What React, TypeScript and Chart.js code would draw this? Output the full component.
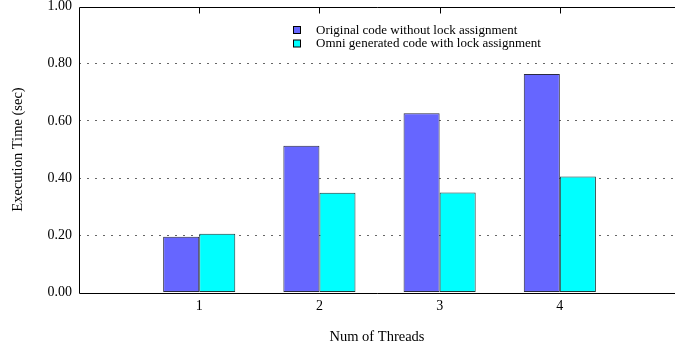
import { useEffect, useRef } from 'react';
import { Chart, registerables } from 'chart.js';

Chart.register(...registerables);

const threads = [1, 2, 3, 4];
const threadLabels = ['1', '2', '3', '4'];
const originalTimes = [0.195, 0.513, 0.627, 0.764];
const omniTimes = [0.205, 0.349, 0.35, 0.406];
const seriesLabels = [
  'Original code without lock assignment',
  'Omni generated code with lock assignment',
];
const yTickValues = [0, 0.2, 0.4, 0.6, 0.8, 1.0];
const xTitle = 'Num of Threads';
const yTitle = 'Execution Time (sec)';

const FONT_FAMILY = '"Liberation Serif", "Times New Roman", Times, serif';
const tickFont = { family: FONT_FAMILY, size: 14 };
const titleFont = { family: FONT_FAMILY, size: 14.5 };

const framePlugin = {
  id: 'frame',
  afterDatasetsDraw(chart: any) {
    const { ctx, chartArea } = chart;
    const { left, right, top, bottom } = chartArea;
    const xs = chart.scales.x;
    ctx.save();
    ctx.strokeStyle = '#000';
    ctx.lineWidth = 1;
    ctx.setLineDash([]);
    ctx.beginPath();
    const l = Math.round(left) + 0.5;
    const t = Math.round(top) + 0.5;
    const b = Math.round(bottom) + 0.5;
    ctx.moveTo(right, t);
    ctx.lineTo(l, t);
    ctx.lineTo(l, b);
    ctx.lineTo(right, b);
    threads.forEach((v) => {
      const px = Math.round(xs.getPixelForValue(v)) + 0.5;
      ctx.moveTo(px, t);
      ctx.lineTo(px, t + 6);
    });
    ctx.stroke();
    ctx.restore();
  },
};

const legendPlugin = {
  id: 'innerLegend',
  afterDraw(chart: any) {
    const { ctx } = chart;
    ctx.save();
    ctx.font = `13px ${FONT_FAMILY}`;
    ctx.textBaseline = 'middle';
    ctx.textAlign = 'left';
    chart.data.datasets.forEach((ds: any, i: number) => {
      const boxTop = 26.5 + i * 13.5;
      ctx.fillStyle = ds.backgroundColor;
      ctx.fillRect(293.5, boxTop, 7, 7);
      ctx.strokeStyle = '#000';
      ctx.lineWidth = 1;
      ctx.strokeRect(293.5, boxTop, 7, 7);
      ctx.fillStyle = '#000';
      ctx.fillText(ds.label, 316, boxTop + 4);
    });
    ctx.restore();
  },
};

export default function App() {
  const canvasRef = useRef<HTMLCanvasElement | null>(null);

  useEffect(() => {
    document.body.style.margin = '0';
    const canvas = canvasRef.current;
    if (!canvas) return;
    const chart = new Chart(canvas, {
      type: 'bar',
      data: {
        datasets: [
          {
            label: seriesLabels[0],
            data: threads.map((t, i) => ({ x: t, y: originalTimes[i] })),
            backgroundColor: '#6666FF',
            borderColor: '#2a2a40',
            borderWidth: 1,
            borderSkipped: false,
            categoryPercentage: 0.6,
            barPercentage: 1.0,
          },
          {
            label: seriesLabels[1],
            data: threads.map((t, i) => ({ x: t, y: omniTimes[i] })),
            backgroundColor: '#00FFFF',
            borderColor: '#1a3a3a',
            borderWidth: 1,
            borderSkipped: false,
            categoryPercentage: 0.6,
            barPercentage: 1.0,
          },
        ],
      },
      options: {
        animation: false,
        responsive: true,
        maintainAspectRatio: false,
        layout: { padding: { top: 6.5, right: 0, left: 0, bottom: 0 } },
        plugins: {
          legend: { display: false },
          tooltip: { enabled: false },
        },
        scales: {
          x: {
            type: 'linear',
            offset: false,
            min: 0,
            max: 4.958,
            afterBuildTicks: (s: any) => {
              s.ticks = threads.map((v) => ({ value: v }));
            },
            afterFit: (s: any) => {
              s.height = 50.5;
              s.paddingLeft = 0;
              s.paddingRight = 0;
            },
            grid: { display: false, drawTicks: false, offset: false },
            border: { display: false },
            ticks: {
              autoSkip: false,
              maxRotation: 0,
              padding: 5,
              color: '#000',
              font: tickFont,
              callback: (v: any) => {
                const idx = threads.indexOf(Number(v));
                return idx >= 0 ? threadLabels[idx] : '';
              },
            },
            title: {
              display: true,
              text: xTitle,
              color: '#000',
              font: titleFont,
              padding: { top: 0, bottom: -3 },
            },
          },
          y: {
            min: 0,
            max: 1,
            afterBuildTicks: (s: any) => {
              s.ticks = yTickValues.map((v) => ({ value: v }));
            },
            afterFit: (s: any) => {
              s.width = 79;
              s.paddingTop = 0;
              s.paddingBottom = 0;
            },
            grid: {
              drawTicks: false,
              lineWidth: 1,
              color: (c: any) =>
                c.tick && (c.tick.value === 0 || c.tick.value === 1)
                  ? 'rgba(0,0,0,0)'
                  : '#666',
            },
            border: { display: false, dash: [2, 6] },
            ticks: {
              padding: 7,
              color: '#000',
              font: tickFont,
              callback: (v: any) => Number(v).toFixed(2),
            },
            title: {
              display: true,
              text: yTitle,
              color: '#000',
              font: titleFont,
              padding: { top: 9, bottom: 0 },
            },
          },
        },
      },
      plugins: [framePlugin, legendPlugin],
    } as any);
    return () => chart.destroy();
  }, []);

  return (
    <div style={{ position: 'relative', width: 675, height: 343 }}>
      <canvas ref={canvasRef} />
    </div>
  );
}
